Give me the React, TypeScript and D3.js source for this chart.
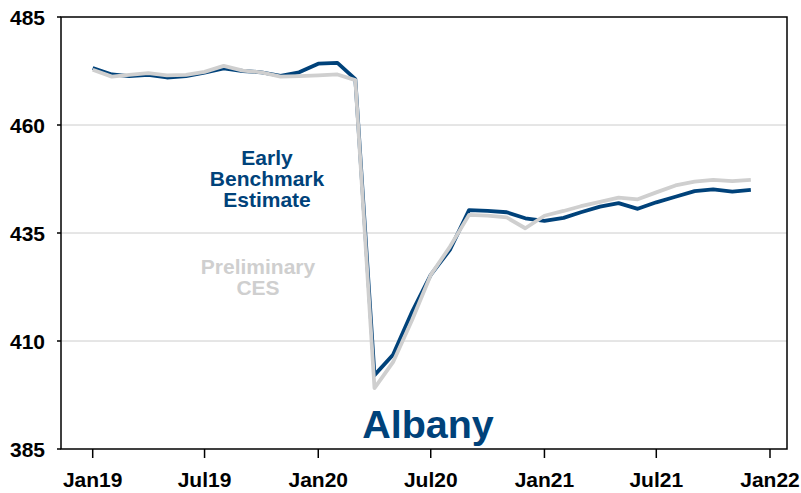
import React from "react";
import * as d3 from "d3";

const months: Date[] = d3.utcMonths(new Date(Date.UTC(2019, 0, 1)), new Date(Date.UTC(2022, 0, 1)));

const earlyBenchmark: number[] = [
  473.2, 471.7, 471.3, 471.6, 471.0, 471.3, 472.1, 473.1, 472.5, 472.2, 471.4, 472.2,
  474.2, 474.4, 470.6, 402.1, 406.8, 416.8, 425.3, 431.1, 440.3, 440.1, 439.8, 438.4,
  437.8, 438.5, 439.8, 441.1, 441.9, 440.6, 442.1, 443.4, 444.7, 445.1, 444.6, 445.0,
];

const preliminaryCES: number[] = [
  472.8, 471.2, 471.6, 472.0, 471.5, 471.6, 472.3, 473.7, 472.6, 472.2, 471.2, 471.3,
  471.5, 471.7, 470.4, 399.1, 405.1, 414.9, 425.3, 431.8, 439.2, 439.0, 438.6, 436.1,
  439.0, 440.1, 441.2, 442.2, 443.2, 442.8, 444.4, 446.0, 446.9, 447.3, 447.0, 447.3,
];

const yTicks: number[] = [385, 410, 435, 460, 485];
const xTickDates: Date[] = [
  new Date(Date.UTC(2019, 0, 1)),
  new Date(Date.UTC(2019, 6, 1)),
  new Date(Date.UTC(2020, 0, 1)),
  new Date(Date.UTC(2020, 6, 1)),
  new Date(Date.UTC(2021, 0, 1)),
  new Date(Date.UTC(2021, 6, 1)),
  new Date(Date.UTC(2022, 0, 1)),
];
const xTickLabels: string[] = ["Jan19", "Jul19", "Jan20", "Jul20", "Jan21", "Jul21", "Jan22"];

const BLUE = "#00427a";
const GRAY = "#cfcfcf";
const FONT = "'Liberation Sans', Arial, sans-serif";

export default function App() {
  const W = 801, H = 493;
  const left = 61, right = 787, top = 17, bottom = 449;

  const x = d3.scaleUtc()
    .domain([new Date(Date.UTC(2019, 0, 1)), new Date(Date.UTC(2022, 0, 1))])
    .range([92.7, 770]);
  const y = d3.scaleLinear().domain([385, 485]).range([bottom, top]);

  const line = d3.line<number>()
    .x((_, i) => x(months[i]))
    .y((d) => y(d));

  return (
    <div style={{ position: "absolute", left: 0, top: 0 }}>
      <svg width={W} height={H} style={{ display: "block", background: "#fff" }}>
        {yTicks.filter((t) => t !== 385 && t !== 485).map((t) => (
          <line key={"g" + t} x1={left} x2={right} y1={y(t)} y2={y(t)} stroke="#cccccc" strokeWidth={1} />
        ))}
        <path d={line(earlyBenchmark) || ""} fill="none" stroke={BLUE} strokeWidth={3.8} strokeLinejoin="round" />
        <path d={line(preliminaryCES) || ""} fill="none" stroke={GRAY} strokeWidth={3.8} strokeLinejoin="round" />
        <rect x={left} y={top} width={right - left} height={bottom - top} fill="none" stroke="#000" strokeWidth={1.5} />
        {yTicks.map((t) => (
          <g key={"y" + t}>
            <line x1={left - 4} x2={left} y1={y(t)} y2={y(t)} stroke="#000" strokeWidth={1.5} />
            <text x={45} y={y(t)} dy="0.36em" textAnchor="end" fontFamily={FONT} fontWeight="bold" fontSize={21} fill="#000">
              {t}
            </text>
          </g>
        ))}
        {xTickDates.map((d, i) => (
          <g key={"x" + i}>
            <line x1={x(d)} x2={x(d)} y1={bottom} y2={bottom + 9} stroke="#000" strokeWidth={1.5} />
            <text x={x(d)} y={487} textAnchor="middle" fontFamily={FONT} fontWeight="bold" fontSize={21} fill="#000">
              {xTickLabels[i]}
            </text>
          </g>
        ))}
        <text textAnchor="middle" fontFamily={FONT} fontWeight="bold" fontSize={21} fill={BLUE}>
          <tspan x={267} y={165}>Early</tspan>
          <tspan x={267} y={186}>Benchmark</tspan>
          <tspan x={267} y={207}>Estimate</tspan>
        </text>
        <text textAnchor="middle" fontFamily={FONT} fontWeight="bold" fontSize={21} fill={GRAY}>
          <tspan x={258} y={274}>Preliminary</tspan>
          <tspan x={258} y={295}>CES</tspan>
        </text>
        <text x={428} y={438} textAnchor="middle" fontFamily={FONT} fontWeight="bold" fontSize={39.5} fill={BLUE}>
          Albany
        </text>
      </svg>
    </div>
  );
}
